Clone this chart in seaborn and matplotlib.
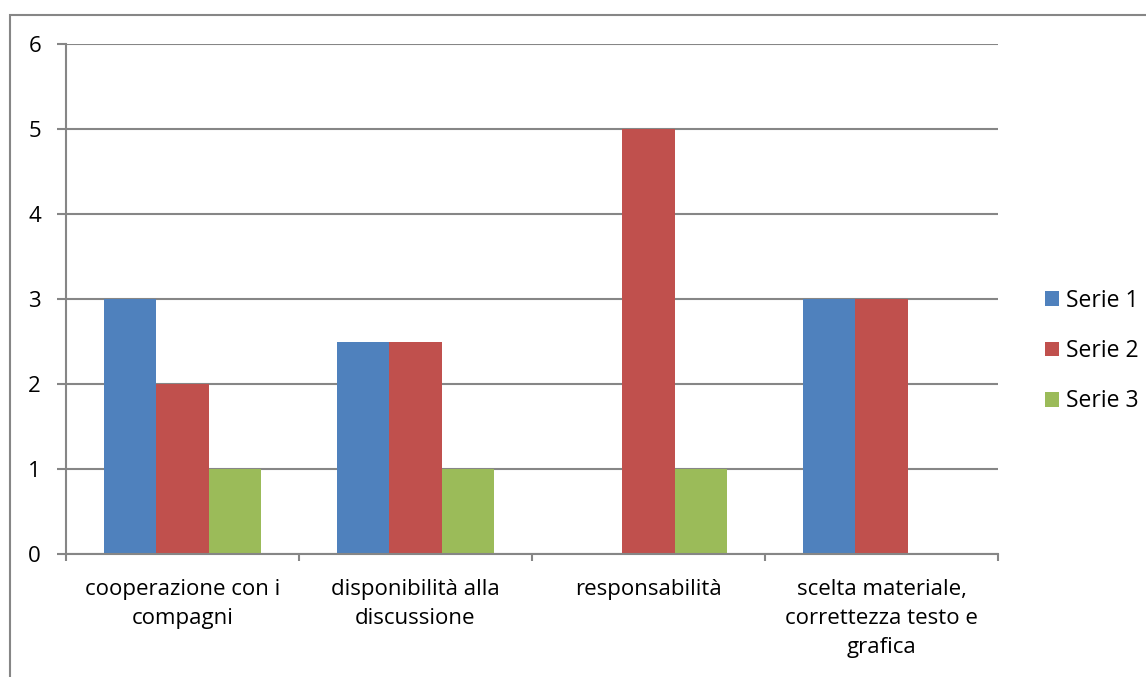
import numpy as np
import pandas as pd
import matplotlib.pyplot as plt
from matplotlib.patches import Rectangle
import seaborn as sns

# - data
categories = ['cooperazione con i\ncompagni',
              'disponibilità alla\ndiscussione',
              'responsabilità',
              'scelta materiale,\ncorrettezza testo e\ngrafica']
series_names = ['Serie 1', 'Serie 2', 'Serie 3']
serie1 = [3, 2.5, np.nan, 3]
serie2 = [2, 2.5, 5, 3]
serie3 = [1, 1, 1, np.nan]
yticks = [0, 1, 2, 3, 4, 5, 6]

colors = ['#4F81BD', '#C0504D', '#9BBB59']
grey = '#868686'

df = pd.DataFrame({
    'cat': categories * 3,
    'serie': [s for s in series_names for _ in categories],
    'val': serie1 + serie2 + serie3,
})

sns.set_style('white')
plt.rcParams['font.family'] = ['Open Sans', 'DejaVu Sans']
plt.rcParams['text.color'] = 'black'
plt.rcParams['xtick.color'] = 'black'
plt.rcParams['ytick.color'] = 'black'

fig = plt.figure(figsize=(11.46, 6.77), dpi=100)
ax = fig.add_axes([66/1146, 1 - 554/677, (998-66)/1146, (554-44)/677])

sns.barplot(data=df, x='cat', y='val', hue='serie', order=categories,
            hue_order=series_names, palette=colors, width=0.67,
            saturation=1, linewidth=0, ax=ax, legend=True)

ax.set_ylim(0, 6)
ax.set_xlim(-0.5, 3.5)
ax.set_yticks(yticks)
ax.yaxis.grid(True, color=grey, linewidth=1.5)
ax.set_axisbelow(True)
ax.set_xlabel('')
ax.set_ylabel('')

for s in ['top', 'right']:
    ax.spines[s].set_visible(False)
for s in ['left', 'bottom']:
    ax.spines[s].set_color(grey)
    ax.spines[s].set_linewidth(1.5)

ax.tick_params(axis='y', left=True, length=6.5, width=1.5, color=grey,
               labelcolor='black', pad=11.5, labelsize=16)
ax.tick_params(axis='x', which='major', bottom=False, length=0, pad=18,
               labelcolor='black', labelsize=16)
ax.set_xticks(np.arange(-0.5, 4, 1), minor=True)
ax.tick_params(axis='x', which='minor', bottom=True, length=5, width=1.5,
               color=grey, direction='out')
for lbl in ax.get_xticklabels():
    lbl.set_linespacing(1.5)
    lbl.set_verticalalignment('top')

# - legend on the right like the office chart
leg = ax.legend(loc='center left', bbox_to_anchor=(1036/1146, 1 - 351/677),
                bbox_transform=fig.transFigure, frameon=False, fontsize=16.5,
                handlelength=0.6, handleheight=0.6, handletextpad=0.3,
                labelspacing=1.15, borderaxespad=0)
for t in leg.get_texts():
    t.set_color('black')

# - outer chart border (cropped at right and bottom)
fig.patches.append(Rectangle((10/1146, -0.1), 1.2, 1 - 15/677 + 0.1,
                             transform=fig.transFigure, fill=False,
                             edgecolor=grey, linewidth=1.5))

plt.savefig('out.png', dpi=100)
